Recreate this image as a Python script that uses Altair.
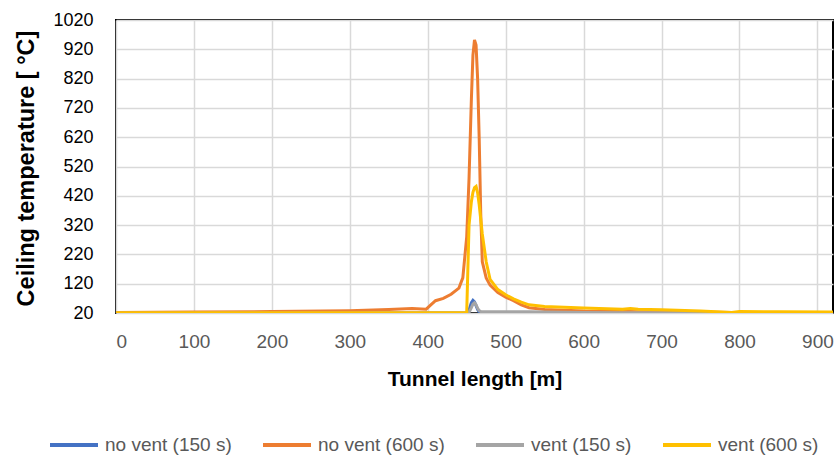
import altair as alt
import pandas as pd

x_m = [0, 100, 200, 300, 350, 380, 398, 405, 410, 420, 430, 440, 445, 450, 453,
       456, 458, 460, 462, 464, 466, 468, 470, 475, 480, 490, 500, 510, 520, 530,
       550, 600, 650, 660, 670, 700, 750, 790, 800, 850, 920]

no_vent_150 = [20, 20, 20, 20, 20, 20, 20, 20, 20, 20, 20, 20, 20, 21, 30,
               55, 63, 58, 45, 32, 24, 21, 20, 20, 20, 20, 20, 20, 20, 20,
               20, 20, 20, 20, 20, 20, 20, 20, 20, 20, 20]
no_vent_600 = [22, 23, 25, 28, 32, 35, 33, 50, 62, 70, 84, 105, 140, 280, 480,
               750, 900, 952, 935, 820, 620, 360, 195, 140, 115, 90, 74, 62, 48, 38,
               32, 27, 25, 25, 24, 24, 23, 22, 22, 22, 21]
vent_150 = [20, 20, 20, 20, 20, 20, 20, 20, 20, 20, 20, 20, 20, 20, 22,
            38, 50, 55, 48, 36, 28, 25, 24, 24, 24, 24, 24, 24, 24, 24,
            23, 22, 21, 21, 21, 21, 21, 21, 21, 21, 21]
vent_600 = [21, 21, 21, 21, 21, 21, 21, 21, 21, 21, 21, 21, 21, 22, 320,
            400, 432, 448, 452, 430, 390, 340, 290, 195, 135, 100, 82, 68, 57, 48,
            42, 37, 33, 35, 33, 31, 27, 22, 25, 24, 23]

series_names = ["no vent (150 s)", "no vent (600 s)", "vent (150 s)", "vent (600 s)"]
series_colors = ["#4472C4", "#ED7D31", "#A5A5A5", "#FFC000"]
y_ticks = [20, 120, 220, 320, 420, 520, 620, 720, 820, 920, 1020]
x_ticks = [0, 100, 200, 300, 400, 500, 600, 700, 800, 900]

rows = []
for name, vals in zip(series_names, [no_vent_150, no_vent_600, vent_150, vent_600]):
    for i, (xv, yv) in enumerate(zip(x_m, vals)):
        rows.append({"x": xv, "y": yv, "series": name, "i": i})
df = pd.DataFrame(rows)

chart = alt.Chart(df).mark_line(strokeWidth=3, clip=True).encode(
    x=alt.X("x:Q", scale=alt.Scale(domain=[0, 920], nice=False, zero=False),
            axis=alt.Axis(values=x_ticks, format="d", title="Tunnel length [m]", grid=True,
                          gridColor="#d9d9d9", gridWidth=1.5, ticks=False, tickSize=0,
                          domain=False, labelFont="Liberation Sans", labelFontSize=19,
                          labelColor="#595959", labelBaseline="alphabetic", labelPadding=34,
                          titleFont="Liberation Sans", titleFontSize=21, titleFontWeight="bold",
                          titleColor="#000000", titleBaseline="alphabetic", titleY=72)),
    y=alt.Y("y:Q", scale=alt.Scale(domain=[20, 1020], nice=False, zero=False),
            axis=alt.Axis(values=y_ticks, format="d", title="Ceiling temperature [ °C]", grid=True,
                          gridColor="#d9d9d9", gridWidth=1.5, ticks=False, tickSize=0,
                          domain=False, labelFont="Liberation Sans", labelFontSize=18,
                          labelColor="#000000", labelPadding=23,
                          titleFont="Liberation Sans", titleFontSize=23.5, titleFontWeight="bold",
                          titleColor="#000000", titleAngle=270, titleBaseline="alphabetic",
                          titleX=-83, titleY=148)),
    color=alt.Color("series:N", scale=alt.Scale(domain=series_names, range=series_colors),
                    legend=alt.Legend(title=None, orient="none", direction="horizontal",
                                      legendX=-68, legendY=399, symbolType="stroke",
                                      symbolSize=2304, symbolStrokeWidth=4, labelOffset=5,
                                      columnPadding=23, padding=0, gridAlign="none",
                                      labelFont="Liberation Sans", labelFontSize=19,
                                      labelColor="#595959")),
    order=alt.Order("i:Q"),
).properties(
    width=717, height=293,
    padding={"left": 116, "top": 20, "right": 2, "bottom": 142},
    autosize=alt.AutoSizeParams(type="none"),
).configure_view(stroke="#000000", strokeWidth=2)

chart.save("out.html", embed_options={"renderer": "svg", "actions": False})
